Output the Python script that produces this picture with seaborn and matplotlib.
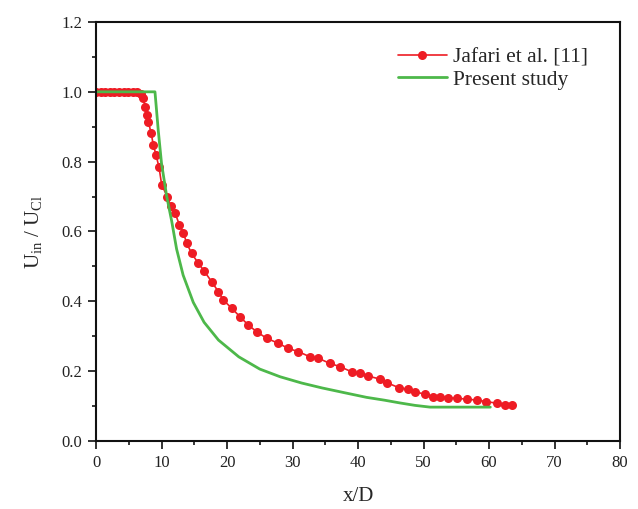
import matplotlib
matplotlib.use("Agg")
import matplotlib.pyplot as plt
import seaborn as sns
import pandas as pd
from matplotlib.ticker import MultipleLocator

jafari_x = [0.0, 0.7, 1.4, 2.1, 2.8, 3.5, 4.2, 4.9, 5.6, 6.3, 6.8, 7.23, 7.48, 7.74, 7.99,
            8.40, 8.75, 9.16, 9.62, 10.03, 10.89, 11.40, 12.06, 12.72, 13.33, 13.85, 14.61,
            15.55, 16.5, 17.66, 18.67, 19.43, 20.72, 21.98, 23.25, 24.53, 26.06, 27.83,
            29.36, 30.89, 32.67, 33.94, 35.73, 37.25, 39.04, 40.31, 41.57, 43.4, 44.4,
            46.2, 47.7, 48.7, 50.2, 51.5, 52.5, 53.8, 55.1, 56.6, 58.1, 59.6, 61.2, 62.4, 63.5]
jafari_y = [1.0, 1.0, 1.0, 1.0, 1.0, 1.0, 1.0, 1.0, 1.0, 1.0, 0.995, 0.981, 0.957, 0.934, 0.914,
            0.883, 0.848, 0.819, 0.784, 0.733, 0.700, 0.673, 0.654, 0.619, 0.597, 0.566, 0.537,
            0.511, 0.487, 0.456, 0.428, 0.404, 0.380, 0.356, 0.332, 0.313, 0.294, 0.280,
            0.265, 0.256, 0.241, 0.237, 0.222, 0.213, 0.198, 0.194, 0.186, 0.177, 0.167,
            0.153, 0.148, 0.141, 0.134, 0.127, 0.127, 0.124, 0.122, 0.120, 0.117, 0.113, 0.108, 0.104, 0.103]

# Present study
present_x = [0.0, 9.0, 9.5, 10.0, 10.8, 11.55, 12.3, 13.3, 14.85, 16.5, 18.7, 21.8, 25.0,
             28.1, 31.4, 34.5, 38.0, 41.3, 44.0, 46.4, 48.7, 51.0, 60.2]
present_y = [1.0, 1.0, 0.89, 0.795, 0.70, 0.63, 0.55, 0.475, 0.397, 0.34, 0.289, 0.241, 0.206,
             0.184, 0.166, 0.152, 0.138, 0.125, 0.117, 0.109, 0.102, 0.097, 0.097]

x_ticks = [0, 10, 20, 30, 40, 50, 60, 70, 80]
y_ticks = [0.0, 0.2, 0.4, 0.6, 0.8, 1.0, 1.2]

sns.set_style("ticks")
plt.rcParams['font.family'] = ['Liberation Serif', 'DejaVu Serif']
plt.rcParams['mathtext.fontset'] = 'custom'
plt.rcParams['mathtext.rm'] = 'Liberation Serif'

fig = plt.figure(figsize=(6.38, 5.09), dpi=100)
ax = fig.add_axes([0.1505, 0.1336, 0.8213, 0.8232])

df_j = pd.DataFrame({"x": jafari_x, "y": jafari_y})
df_p = pd.DataFrame({"x": present_x, "y": present_y})

sns.lineplot(data=df_j, x="x", y="y", ax=ax, color="#ee1c24", linewidth=1.2,
             marker="o", markersize=6.5, markeredgewidth=0, sort=False,
             label="Jafari et al. [11]")
sns.lineplot(data=df_p, x="x", y="y", ax=ax, color="#4db84a", linewidth=2.0, sort=False,
             label="Present study")

ax.set_xlim(0, 80)
ax.set_ylim(0, 1.2)
ax.set_xticks(x_ticks)
ax.set_yticks(y_ticks)
ax.set_xticklabels([str(t) for t in x_ticks])
ax.set_yticklabels([f"{t:.1f}" for t in y_ticks])
ax.xaxis.set_minor_locator(MultipleLocator(5))
ax.yaxis.set_minor_locator(MultipleLocator(0.1))
ax.tick_params(axis='both', which='major', direction='out', length=5.8, width=1.3,
               labelsize=12, pad=4, colors='#222222')
ax.tick_params(axis='both', which='minor', direction='out', length=3, width=1.3)
for sp in ax.spines.values():
    sp.set_visible(True)
    sp.set_linewidth(1.5)
    sp.set_color('#111111')

ax.set_xlabel("x/D", fontsize=15, labelpad=12)
ax.set_ylabel(r"U$_{\mathregular{in}}$ / U$_{\mathregular{Cl}}$", fontsize=15, labelpad=12)

leg = ax.legend(loc="upper right", bbox_to_anchor=(0.975, 0.985), frameon=False, fontsize=15.5,
                handlelength=2.3, handletextpad=0.25, labelspacing=0.1)

fig.savefig("out.png", dpi=100)
